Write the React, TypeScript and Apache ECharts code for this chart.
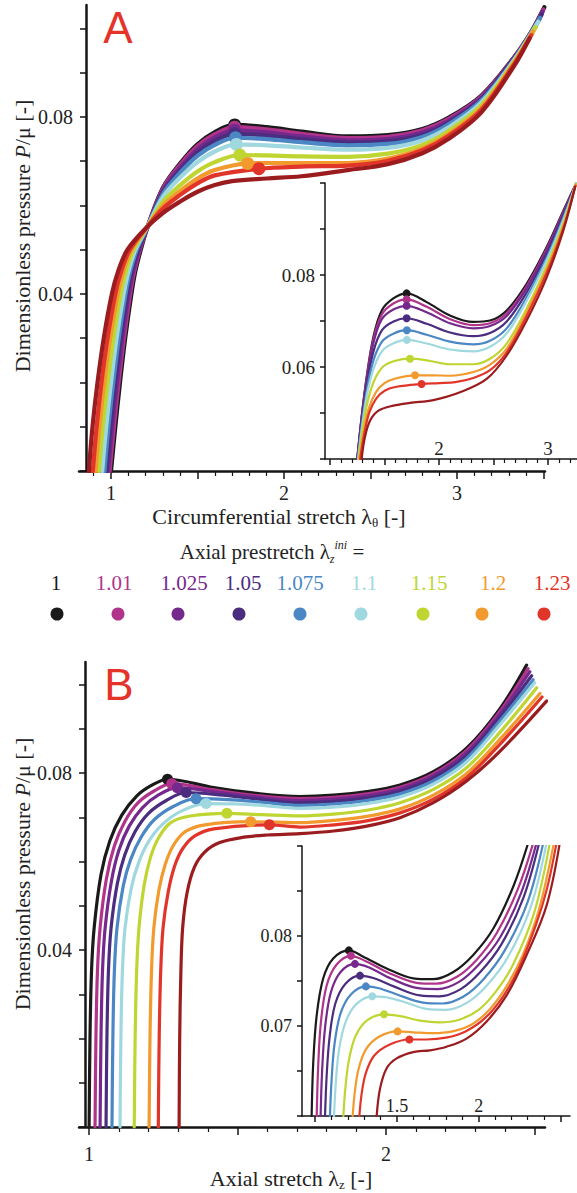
import React, { useEffect, useRef } from "react";
import * as echarts from "echarts";

// ---------- labels ----------
const PRESTRETCH = ["1", "1.01", "1.025", "1.05", "1.075", "1.1", "1.15", "1.2", "1.23"];
const COLORS = ["#1a1a1a", "#b1348b", "#76298c", "#4a2d7f", "#4b87c4", "#a0d8df", "#bfd531", "#f29a2e", "#e1352a", "#9a1c1f"];

// ---------- panel A (circumferential stretch) ----------
const aMainCurves: number[][][] = [
  [[1.0,0],[1.025,0.01],[1.052,0.02],[1.082,0.03],[1.118,0.04],[1.14,0.045],[1.172,0.05],[1.21,0.055],[1.3,0.064],[1.4,0.0695],[1.5,0.0738],[1.6,0.0766],[1.715,0.0782],[1.9,0.0777],[2.1,0.0767],[2.37,0.0756],[2.6,0.0759],[2.8,0.0773],[2.95,0.0798],[3.14,0.0848],[3.33,0.0935],[3.43,0.0993],[3.505,0.1048]],
  [[0.992,0],[1.017,0.01],[1.044,0.02],[1.075,0.03],[1.111,0.04],[1.134,0.045],[1.167,0.05],[1.21,0.055],[1.3,0.0638],[1.4,0.0692],[1.5,0.0734],[1.6,0.0761],[1.715,0.0777],[1.9,0.0772],[2.1,0.0762],[2.37,0.0752],[2.6,0.0755],[2.8,0.077],[2.95,0.0795],[3.14,0.0846],[3.33,0.0934],[3.43,0.0991],[3.5,0.1043]],
  [[0.983,0],[1.008,0.01],[1.035,0.02],[1.066,0.03],[1.103,0.04],[1.127,0.045],[1.162,0.05],[1.21,0.055],[1.3,0.0634],[1.4,0.0686],[1.5,0.0727],[1.6,0.0754],[1.715,0.077],[1.9,0.0765],[2.1,0.0756],[2.37,0.0747],[2.6,0.075],[2.8,0.0765],[2.95,0.0791],[3.14,0.0843],[3.33,0.0933],[3.43,0.0989],[3.495,0.1038]],
  [[0.973,0],[0.997,0.01],[1.025,0.02],[1.056,0.03],[1.094,0.04],[1.119,0.045],[1.156,0.05],[1.209,0.055],[1.3,0.063],[1.4,0.068],[1.5,0.072],[1.6,0.0746],[1.715,0.0762],[1.9,0.0758],[2.1,0.075],[2.37,0.0742],[2.6,0.0745],[2.8,0.076],[2.95,0.0787],[3.14,0.084],[3.33,0.0932],[3.43,0.0988],[3.49,0.1032]],
  [[0.962,0],[0.985,0.01],[1.013,0.02],[1.045,0.03],[1.084,0.04],[1.11,0.045],[1.149,0.05],[1.209,0.055],[1.3,0.0626],[1.4,0.0674],[1.5,0.0712],[1.6,0.0737],[1.72,0.0753],[1.9,0.075],[2.1,0.0743],[2.37,0.0736],[2.6,0.0739],[2.8,0.0755],[2.95,0.0783],[3.14,0.0837],[3.33,0.093],[3.48,0.1024]],
  [[0.949,0],[0.972,0.01],[1.0,0.02],[1.032,0.03],[1.073,0.04],[1.1,0.045],[1.141,0.05],[1.208,0.055],[1.3,0.0619],[1.4,0.0663],[1.5,0.0698],[1.6,0.0722],[1.725,0.0738],[1.9,0.0736],[2.1,0.0731],[2.37,0.0726],[2.6,0.073],[2.8,0.0747],[2.95,0.0776],[3.14,0.0832],[3.33,0.0928],[3.47,0.1015]],
  [[0.93,0],[0.952,0.01],[0.981,0.02],[1.014,0.03],[1.056,0.04],[1.085,0.045],[1.13,0.05],[1.207,0.055],[1.3,0.0608],[1.4,0.0646],[1.5,0.0677],[1.6,0.0698],[1.745,0.0714],[1.9,0.0713],[2.1,0.0711],[2.37,0.071],[2.6,0.0717],[2.8,0.0737],[2.95,0.0768],[3.14,0.0826],[3.33,0.0925],[3.455,0.1003]],
  [[0.91,0],[0.933,0.01],[0.961,0.02],[0.995,0.03],[1.039,0.04],[1.07,0.045],[1.118,0.05],[1.207,0.055],[1.3,0.0599],[1.4,0.0633],[1.5,0.0661],[1.6,0.068],[1.79,0.0695],[1.9,0.0696],[2.1,0.0696],[2.37,0.0696],[2.6,0.0706],[2.8,0.0729],[2.95,0.0761],[3.14,0.082],[3.33,0.0922],[3.44,0.0993]],
  [[0.895,0],[0.917,0.01],[0.945,0.02],[0.98,0.03],[1.025,0.04],[1.058,0.045],[1.109,0.05],[1.206,0.055],[1.3,0.0593],[1.4,0.0624],[1.5,0.065],[1.6,0.0668],[1.855,0.0683],[2.1,0.0688],[2.37,0.069],[2.6,0.0701],[2.8,0.0725],[2.95,0.0757],[3.14,0.0816],[3.33,0.0919],[3.43,0.0985]],
  [[0.872,0],[0.893,0.01],[0.922,0.02],[0.958,0.03],[1.005,0.04],[1.04,0.045],[1.095,0.05],[1.205,0.055],[1.3,0.0583],[1.4,0.0609],[1.5,0.0631],[1.6,0.0646],[1.7,0.0655],[1.9,0.0661],[2.1,0.0666],[2.37,0.068],[2.6,0.0693],[2.8,0.0718],[2.95,0.075],[3.14,0.081],[3.33,0.0915],[3.42,0.0978]],
];
const aMainDots: number[][] = [[1.715,0.0782],[1.715,0.0777],[1.715,0.077],[1.715,0.0762],[1.72,0.0753],[1.725,0.0738],[1.745,0.0714],[1.79,0.0695],[1.855,0.0683]];

const aInsetCurves: number[][][] = [
  [[1.251,0.04],[1.29,0.0491],[1.336,0.0578],[1.398,0.0665],[1.475,0.0723],[1.581,0.0749],[1.703,0.076],[1.887,0.0741],[2.101,0.0712],[2.315,0.0698],[2.468,0.0701],[2.621,0.0723],[2.804,0.0781],[2.988,0.0861],[3.141,0.094],[3.263,0.1002]],
  [[1.249,0.04],[1.29,0.049],[1.336,0.0575],[1.398,0.066],[1.475,0.0714],[1.581,0.0738],[1.703,0.0747],[1.887,0.0731],[2.101,0.0704],[2.315,0.0691],[2.468,0.0695],[2.621,0.0717],[2.804,0.0776],[2.988,0.0857],[3.141,0.0937],[3.262,0.1]],
  [[1.25,0.04],[1.29,0.0488],[1.336,0.057],[1.398,0.0652],[1.475,0.0704],[1.581,0.0725],[1.703,0.0733],[1.887,0.0719],[2.101,0.0695],[2.315,0.0684],[2.468,0.0689],[2.621,0.0711],[2.804,0.0771],[2.988,0.0853],[3.141,0.0934],[3.262,0.1]],
  [[1.252,0.04],[1.292,0.0485],[1.338,0.0562],[1.4,0.0635],[1.477,0.068],[1.583,0.0699],[1.703,0.0706],[1.887,0.0694],[2.101,0.0675],[2.315,0.0667],[2.468,0.0674],[2.621,0.0699],[2.804,0.0762],[2.988,0.0846],[3.141,0.093],[3.261,0.1]],
  [[1.255,0.04],[1.295,0.048],[1.34,0.0553],[1.402,0.0617],[1.48,0.0656],[1.585,0.0673],[1.705,0.068],[1.887,0.067],[2.101,0.0655],[2.315,0.0649],[2.468,0.0657],[2.621,0.0684],[2.804,0.0752],[2.988,0.0838],[3.141,0.0925],[3.26,0.1]],
  [[1.258,0.04],[1.298,0.0476],[1.343,0.0544],[1.405,0.06],[1.483,0.0636],[1.588,0.0652],[1.705,0.0659],[1.887,0.0651],[2.101,0.0638],[2.315,0.0634],[2.468,0.0644],[2.621,0.0673],[2.804,0.0744],[2.988,0.0832],[3.141,0.092],[3.258,0.1]],
  [[1.262,0.04],[1.302,0.0469],[1.348,0.0528],[1.41,0.0573],[1.488,0.0601],[1.592,0.0613],[1.734,0.0618],[1.9,0.0614],[2.101,0.0606],[2.315,0.0606],[2.468,0.0618],[2.621,0.0651],[2.804,0.0727],[2.988,0.082],[3.141,0.0912],[3.256,0.0998]],
  [[1.27,0.04],[1.31,0.046],[1.356,0.051],[1.42,0.0545],[1.5,0.0565],[1.6,0.0575],[1.78,0.0582],[1.95,0.0582],[2.101,0.0581],[2.315,0.0589],[2.468,0.0605],[2.621,0.064],[2.804,0.0718],[2.988,0.0812],[3.141,0.0906],[3.254,0.0996]],
  [[1.277,0.04],[1.316,0.0457],[1.36,0.0501],[1.425,0.0532],[1.505,0.0549],[1.61,0.0557],[1.84,0.0563],[2.0,0.0565],[2.15,0.0567],[2.315,0.0576],[2.468,0.0593],[2.621,0.0632],[2.804,0.0711],[2.988,0.0805],[3.141,0.0902],[3.252,0.0994]],
  [[1.29,0.04],[1.32,0.0447],[1.367,0.0483],[1.444,0.0505],[1.581,0.0516],[1.734,0.0522],[1.948,0.0528],[2.193,0.0545],[2.437,0.0574],[2.621,0.0625],[2.804,0.0701],[2.988,0.0795],[3.141,0.0897],[3.248,0.0991]],
];
const aInsetDots: number[][] = [[1.703,0.076],[1.703,0.0747],[1.703,0.0733],[1.703,0.0706],[1.705,0.068],[1.705,0.0659],[1.734,0.0618],[1.78,0.0582],[1.84,0.0563]];

// ---------- panel B (axial stretch) ----------
const bMainCurves: number[][][] = [
  [[1.0,0],[1.003,0.02],[1.008,0.035],[1.017,0.045],[1.04,0.057],[1.07,0.0647],[1.11,0.0705],[1.16,0.0748],[1.21,0.0772],[1.264,0.0786],[1.42,0.0767],[1.55,0.0755],[1.71,0.0747],[1.823,0.075],[1.935,0.0758],[2.047,0.0773],[2.159,0.0803],[2.271,0.0856],[2.383,0.0945],[2.473,0.1044]],
  [[1.02,0],[1.023,0.02],[1.028,0.035],[1.037,0.045],[1.058,0.056],[1.085,0.0635],[1.12,0.069],[1.165,0.0733],[1.22,0.076],[1.278,0.0776],[1.42,0.0762],[1.55,0.075],[1.71,0.0742],[1.823,0.0745],[1.935,0.0753],[2.047,0.0768],[2.159,0.0798],[2.271,0.0851],[2.383,0.0939],[2.478,0.1036]],
  [[1.037,0],[1.04,0.02],[1.045,0.035],[1.054,0.045],[1.075,0.0555],[1.1,0.0625],[1.135,0.068],[1.18,0.0722],[1.235,0.0751],[1.297,0.0767],[1.43,0.0757],[1.56,0.0746],[1.71,0.0738],[1.823,0.0741],[1.935,0.0749],[2.047,0.0764],[2.159,0.0794],[2.271,0.0846],[2.383,0.0933],[2.484,0.1029]],
  [[1.057,0],[1.06,0.02],[1.065,0.035],[1.074,0.045],[1.095,0.055],[1.12,0.0615],[1.155,0.0668],[1.2,0.0709],[1.26,0.0738],[1.327,0.0756],[1.45,0.075],[1.57,0.0741],[1.71,0.0733],[1.823,0.0736],[1.935,0.0744],[2.047,0.0759],[2.159,0.0789],[2.271,0.084],[2.383,0.0926],[2.49,0.102]],
  [[1.077,0],[1.08,0.02],[1.085,0.035],[1.094,0.045],[1.115,0.0545],[1.14,0.0605],[1.175,0.0655],[1.22,0.0695],[1.285,0.0725],[1.36,0.0742],[1.47,0.074],[1.58,0.0734],[1.71,0.0727],[1.823,0.073],[1.935,0.0738],[2.047,0.0753],[2.159,0.0782],[2.271,0.0833],[2.383,0.0918],[2.495,0.1011]],
  [[1.104,0],[1.107,0.02],[1.112,0.035],[1.121,0.045],[1.142,0.054],[1.167,0.0598],[1.2,0.0645],[1.245,0.0683],[1.31,0.0714],[1.394,0.0731],[1.5,0.073],[1.6,0.0726],[1.71,0.072],[1.823,0.0723],[1.935,0.0731],[2.047,0.0746],[2.159,0.0775],[2.271,0.0825],[2.383,0.0909],[2.5,0.1004]],
  [[1.152,0],[1.155,0.02],[1.16,0.035],[1.168,0.045],[1.185,0.0545],[1.207,0.061],[1.235,0.0655],[1.275,0.0688],[1.34,0.0703],[1.464,0.0709],[1.58,0.0706],[1.71,0.0703],[1.823,0.0707],[1.935,0.0716],[2.047,0.0733],[2.159,0.0763],[2.271,0.0812],[2.383,0.0892],[2.507,0.0993]],
  [[1.202,0],[1.205,0.02],[1.21,0.035],[1.218,0.045],[1.235,0.0535],[1.257,0.0595],[1.285,0.0638],[1.325,0.0668],[1.39,0.0683],[1.544,0.069],[1.63,0.0689],[1.71,0.0688],[1.823,0.0693],[1.935,0.0702],[2.047,0.0719],[2.159,0.075],[2.271,0.0799],[2.383,0.0876],[2.518,0.098]],
  [[1.233,0],[1.236,0.02],[1.241,0.035],[1.249,0.045],[1.266,0.053],[1.288,0.059],[1.316,0.063],[1.356,0.0658],[1.42,0.0674],[1.607,0.0683],[1.71,0.0678],[1.823,0.0683],[1.935,0.0692],[2.047,0.071],[2.159,0.0741],[2.271,0.079],[2.383,0.0865],[2.525,0.0972]],
  [[1.303,0],[1.305,0.02],[1.309,0.035],[1.315,0.045],[1.33,0.053],[1.355,0.0588],[1.39,0.0622],[1.44,0.0643],[1.52,0.0655],[1.6,0.066],[1.71,0.0663],[1.823,0.0669],[1.935,0.068],[2.047,0.0699],[2.159,0.0733],[2.271,0.0782],[2.383,0.0849],[2.541,0.0963]],
];
const bMainDots: number[][] = [[1.264,0.0786],[1.278,0.0776],[1.297,0.0767],[1.327,0.0756],[1.36,0.0742],[1.394,0.0731],[1.464,0.0709],[1.544,0.069],[1.607,0.0683]];

const bInsetCurves: number[][][] = [
  [[0.978,0.06],[0.988,0.066],[1.009,0.0712],[1.049,0.0753],[1.11,0.0775],[1.206,0.0784],[1.294,0.0777],[1.437,0.0764],[1.6,0.0753],[1.722,0.0752],[1.845,0.076],[1.967,0.0779],[2.089,0.0808],[2.212,0.0855],[2.304,0.0904]],
  [[1.009,0.06],[1.018,0.0655],[1.035,0.0705],[1.07,0.0745],[1.13,0.0768],[1.218,0.0778],[1.31,0.0772],[1.45,0.0759],[1.62,0.0748],[1.74,0.0747],[1.87,0.0755],[1.99,0.0774],[2.11,0.0803],[2.24,0.0852],[2.335,0.0904]],
  [[1.033,0.06],[1.042,0.065],[1.06,0.0698],[1.095,0.0737],[1.155,0.076],[1.243,0.0769],[1.33,0.0765],[1.46,0.0753],[1.63,0.0742],[1.75,0.0741],[1.88,0.0749],[2.0,0.0768],[2.13,0.0798],[2.26,0.0848],[2.355,0.0904]],
  [[1.06,0.06],[1.07,0.0645],[1.088,0.0688],[1.123,0.0725],[1.185,0.0747],[1.274,0.0756],[1.36,0.0753],[1.48,0.0744],[1.64,0.0734],[1.76,0.0733],[1.89,0.0741],[2.01,0.076],[2.14,0.0791],[2.275,0.0843],[2.371,0.0904]],
  [[1.09,0.06],[1.1,0.064],[1.118,0.068],[1.155,0.0714],[1.218,0.0735],[1.31,0.0744],[1.39,0.0742],[1.5,0.0735],[1.66,0.0726],[1.78,0.0725],[1.91,0.0733],[2.03,0.0752],[2.16,0.0784],[2.3,0.0838],[2.396,0.0904]],
  [[1.115,0.06],[1.126,0.0637],[1.145,0.0673],[1.185,0.0704],[1.25,0.0724],[1.349,0.0733],[1.43,0.0732],[1.54,0.0727],[1.68,0.0719],[1.8,0.0718],[1.93,0.0726],[2.05,0.0745],[2.18,0.0777],[2.32,0.0833],[2.416,0.0904]],
  [[1.172,0.06],[1.185,0.0632],[1.205,0.0661],[1.245,0.0688],[1.315,0.0706],[1.421,0.0713],[1.52,0.0711],[1.64,0.0706],[1.76,0.0704],[1.88,0.0707],[2.0,0.0718],[2.1,0.0737],[2.21,0.0768],[2.34,0.0826],[2.436,0.0904]],
  [[1.229,0.06],[1.243,0.0628],[1.265,0.0652],[1.31,0.0674],[1.39,0.0688],[1.504,0.0694],[1.6,0.0693],[1.72,0.0692],[1.84,0.0694],[1.96,0.0702],[2.07,0.0719],[2.17,0.0744],[2.27,0.0779],[2.37,0.083],[2.461,0.0904]],
  [[1.27,0.06],[1.285,0.0626],[1.31,0.0648],[1.36,0.0667],[1.45,0.0679],[1.576,0.0685],[1.68,0.0685],[1.8,0.0687],[1.92,0.0694],[2.04,0.0709],[2.15,0.0733],[2.25,0.0766],[2.35,0.0812],[2.42,0.0854],[2.477,0.0904]],
  [[1.376,0.06],[1.396,0.063],[1.437,0.0653],[1.498,0.0664],[1.6,0.0671],[1.702,0.0673],[1.804,0.0677],[1.926,0.0686],[2.049,0.0705],[2.171,0.0734],[2.294,0.0779],[2.416,0.0834],[2.497,0.0904]],
];
const bInsetDots: number[][] = [[1.206,0.0784],[1.218,0.0778],[1.243,0.0769],[1.274,0.0756],[1.31,0.0744],[1.349,0.0733],[1.421,0.0713],[1.504,0.0694],[1.576,0.0685]];

// ---------- tick values ----------
const aMainMajor = [1, 1.5, 2, 2.5, 3, 3.5];
const aMainMinor = [0.9, 1.1, 1.2, 1.3, 1.4, 1.6, 1.7, 1.8, 1.9, 2.1, 2.2, 2.3, 2.4, 2.6, 2.7, 2.8, 2.9, 3.1, 3.2, 3.3, 3.4];
const aMainXLabels = [1, 2, 3];
const aMainYTicks = [0, 0.01, 0.02, 0.03, 0.04, 0.05, 0.06, 0.07, 0.08, 0.09, 0.1];
const aMainYLabels = [0.04, 0.08];
const aInsetMajor = [1, 1.5, 2, 2.5, 3];
const aInsetMinor = [1.1, 1.2, 1.3, 1.4, 1.6, 1.7, 1.8, 1.9, 2.1, 2.2, 2.3, 2.4, 2.6, 2.7, 2.8, 2.9, 3.1, 3.2];
const aInsetXLabels = [2, 3];
const aInsetYTicks = [0.04, 0.05, 0.06, 0.07, 0.08, 0.09, 0.1];
const aInsetYLabels = [0.06, 0.08];
const bMainMajor = [1, 1.5, 2, 2.5];
const bMainMinor = [1.1, 1.2, 1.3, 1.4, 1.6, 1.7, 1.8, 1.9, 2.1, 2.2, 2.3, 2.4];
const bMainXLabels = [1, 2];
const bMainYTicks = [0, 0.01, 0.02, 0.03, 0.04, 0.05, 0.06, 0.07, 0.08, 0.09, 0.1];
const bMainYLabels = [0.04, 0.08];
const bInsetMajor = [1, 1.5, 2, 2.5];
const bInsetMinor = [1.1, 1.2, 1.3, 1.4, 1.6, 1.7, 1.8, 1.9, 2.1, 2.2, 2.3, 2.4];
const bInsetXLabels = [1.5, 2];
const bInsetYTicks = [0.06, 0.065, 0.07, 0.075, 0.08, 0.085, 0.09];
const bInsetYLabels = [0.07, 0.08];

const SERIF = "Liberation Serif";
const SANS = "Liberation Sans";
const AX = "#151515";
const TXT = "#222222";

function xAxes(grid: number, min: number, max: number, major: number[], minor: number[], labels: number[], o: any) {
  const main = {
    type: "value", gridIndex: grid, min, max, position: "bottom",
    axisLine: { show: true, onZero: false, lineStyle: { color: AX, width: o.lw } },
    axisTick: { show: true, customValues: major, length: o.majLen, lineStyle: { color: AX, width: 1.5 } },
    axisLabel: {
      show: true, customValues: labels, inside: o.inside, margin: o.margin,
      fontFamily: SERIF, fontSize: o.fs, color: TXT,
      formatter: (v: number) => `{t|${v}}`,
      rich: { t: { fontFamily: SERIF, fontSize: o.fs, lineHeight: o.fs + 2, color: TXT } },
    },
    splitLine: { show: false },
  };
  const sub = {
    type: "value", gridIndex: grid, min, max, position: "bottom",
    axisLine: { show: false, onZero: false },
    axisTick: { show: true, customValues: minor, length: o.minLen, lineStyle: { color: AX, width: 1.2 } },
    axisLabel: { show: false },
    splitLine: { show: false },
  };
  return [main, sub];
}

function yAxis(grid: number, min: number, max: number, ticks: number[], labels: number[], o: any) {
  return {
    type: "value", gridIndex: grid, min, max, position: "left", offset: o.offset,
    axisLine: { show: true, onZero: false, lineStyle: { color: AX, width: o.lw } },
    axisTick: { show: true, customValues: ticks, length: o.tickLen, lineStyle: { color: AX, width: 1.5 } },
    axisLabel: {
      show: true, customValues: labels, margin: o.margin, fontFamily: SERIF, fontSize: o.fs, color: TXT,
      formatter: (v: number) => `{t|${v.toFixed(2)}}`,
      rich: { t: { fontFamily: SERIF, fontSize: o.fs, lineHeight: o.fs + 2, color: TXT } },
    },
    splitLine: { show: false },
  };
}

function curveSeries(curves: number[][][], xi: number, yi: number, width: number) {
  return curves.map((d, i) => ({
    type: "line", xAxisIndex: xi, yAxisIndex: yi, data: d, smooth: 0.35,
    showSymbol: false, symbol: "none", silent: true,
    lineStyle: { color: COLORS[i], width, cap: "round", join: "round" },
    z: 2,
  }));
}

function dotSeries(dots: number[][], xi: number, yi: number, size: number) {
  return {
    type: "scatter", xAxisIndex: xi, yAxisIndex: yi, symbolSize: size, silent: true, z: 5,
    data: dots.map((p, i) => ({ value: p, itemStyle: { color: COLORS[i], opacity: 1 } })),
  };
}

function richText(x: number, y: number, text: string, rich: any, extra: any = {}) {
  return {
    type: "text", x, y, ...extra,
    style: {
      text, rich,
      align: "center", verticalAlign: "middle", textAlign: "center", textVerticalAlign: "middle",
    },
  };
}

function rotatedTitle(cx: number, cy: number) {
  return richText(cx, cy, "{a|Dimensionless pressure }{i|P}{a|/μ [-]}", {
    a: { fontFamily: SERIF, fontSize: 22, lineHeight: 26, fill: TXT, color: TXT },
    i: { fontFamily: SERIF, fontSize: 22, lineHeight: 26, fontStyle: "italic", fill: TXT, color: TXT },
  }, { rotation: Math.PI / 2 });
}

function xTitle(cx: number, cy: number, main: string, sub: string) {
  return richText(cx, cy, `{a|${main}}{s|${sub}}{a| [-]}`, {
    a: { fontFamily: SERIF, fontSize: 22, lineHeight: 26, fill: TXT, color: TXT },
    s: { fontFamily: SERIF, fontSize: 13, lineHeight: 13, verticalAlign: "bottom", fill: TXT, color: TXT },
  });
}

export default function App() {
  const ref = useRef<HTMLDivElement>(null);
  useEffect(() => {
    const chart = echarts.init(ref.current!, null, { renderer: "svg" });

    const legendTextX = [56, 114, 184, 243, 300, 364, 429, 493, 552];
    const legendDotX = [57, 118, 178, 239, 300, 361, 423, 482, 544];
    const graphics: any[] = [
      richText(118, 27, "{l|A}", { l: { fontFamily: SANS, fontSize: 44, lineHeight: 46, fill: "#e5332a", color: "#e5332a" } }),
      richText(119, 684, "{l|B}", { l: { fontFamily: SANS, fontSize: 44, lineHeight: 46, fill: "#e5332a", color: "#e5332a" } }),
      rotatedTitle(22, 236),
      rotatedTitle(22, 874),
      xTitle(279, 516, "Circumferential stretch λ", "θ"),
      xTitle(291, 1178, "Axial stretch λ", "z"),
      richText(272, 552, "{a|Axial prestretch λ}{s|z}{p|ini}{a| =}", {
        a: { fontFamily: SERIF, fontSize: 21, lineHeight: 26, fill: TXT, color: TXT },
        s: { fontFamily: SERIF, fontSize: 12, lineHeight: 12, fontStyle: "italic", verticalAlign: "bottom", fill: TXT, color: TXT },
        p: { fontFamily: SERIF, fontSize: 12, lineHeight: 12, fontStyle: "italic", verticalAlign: "top", fill: TXT, color: TXT },
      }),
    ];
    PRESTRETCH.forEach((t, i) => {
      graphics.push(richText(legendTextX[i], 583, `{n|${t}}`, {
        n: { fontFamily: SERIF, fontSize: 21, lineHeight: 24, fill: COLORS[i], color: COLORS[i] },
      }));
      graphics.push({ type: "circle", shape: { cx: legendDotX[i], cy: 614, r: 6.5 }, style: { fill: COLORS[i] } });
    });

    const option: any = {
      animation: false,
      backgroundColor: "#ffffff",
      textStyle: { fontFamily: SERIF },
      grid: [
        { left: 79, top: 5, width: 466, height: 466 },
        { left: 325, top: 183, width: 252, height: 276 },
        { left: 79, top: 662, width: 466, height: 465 },
        { left: 302, top: 846, width: 268, height: 270 },
      ],
      xAxis: [
        ...xAxes(0, 0.815, 3.509, aMainMajor, aMainMinor, aMainXLabels, { lw: 2.5, majLen: 8, minLen: 5, inside: false, margin: 11, fs: 20 }),
        ...xAxes(1, 0.954, 3.266, aInsetMajor, aInsetMinor, aInsetXLabels, { lw: 1.5, majLen: 6, minLen: 4, inside: true, margin: 0, fs: 19 }),
        ...xAxes(2, 0.966, 2.535, bMainMajor, bMainMinor, bMainXLabels, { lw: 2.5, majLen: 8, minLen: 5, inside: false, margin: 16, fs: 20 }),
        ...xAxes(3, 0.919, 2.559, bInsetMajor, bInsetMinor, bInsetXLabels, { lw: 1.5, majLen: 6, minLen: 4, inside: true, margin: 0, fs: 18 }),
      ],
      yAxis: [
        yAxis(0, 0, 0.1053, aMainYTicks, aMainYLabels, { offset: -7, lw: 2.5, tickLen: 6, margin: 13, fs: 20 }),
        yAxis(1, 0.04, 0.1, aInsetYTicks, aInsetYLabels, { offset: 0, lw: 1.5, tickLen: 5, margin: 10, fs: 19 }),
        yAxis(2, 0, 0.1051, bMainYTicks, bMainYLabels, { offset: -6, lw: 2.5, tickLen: 6, margin: 13, fs: 20 }),
        yAxis(3, 0.06, 0.09, bInsetYTicks, bInsetYLabels, { offset: 0, lw: 1.5, tickLen: 5, margin: 10, fs: 18 }),
      ],
      series: [
        ...curveSeries(aMainCurves, 0, 0, 4.2),
        dotSeries(aMainDots, 0, 0, 13),
        ...curveSeries(aInsetCurves, 2, 1, 2.2),
        dotSeries(aInsetDots, 2, 1, 8),
        ...curveSeries(bMainCurves, 4, 2, 3.2),
        dotSeries(bMainDots, 4, 2, 11),
        ...curveSeries(bInsetCurves, 6, 3, 2.2),
        dotSeries(bInsetDots, 6, 3, 8),
      ],
      graphic: graphics,
    };
    chart.setOption(option);
    return () => chart.dispose();
  }, []);
  return (
    <div
      ref={ref}
      style={{ position: "absolute", left: 0, top: 0, width: 577, height: 1193, background: "#fff" }}
    />
  );
}
